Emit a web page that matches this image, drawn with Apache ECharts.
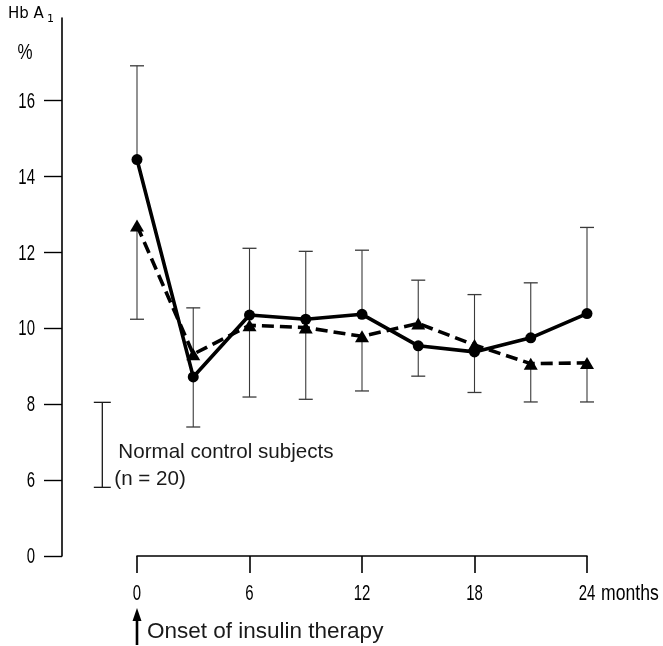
<!DOCTYPE html>
<html><head><meta charset="utf-8">
<script src="https://cdn.jsdelivr.net/npm/echarts@6/dist/echarts.min.js"></script>
<style>html,body{margin:0;padding:0;background:#fff}#c{width:663px;height:646px}</style>
</head><body><div id="c"></div>
<script>
// ---- data ----
const months = [0, 3, 6, 9, 12, 15, 18, 21, 24];
const circles = [14.45, 8.72, 10.35, 10.24, 10.37, 9.54, 9.38, 9.75, 10.39];
const triangles = [12.71, 9.32, 10.08, 10.02, 9.79, 10.13, 9.56, 9.07, 9.09];
const upperBars = [16.92, 10.54, 12.11, 12.03, 12.06, 11.27, 10.89, 11.20, 12.66];
const lowerBars = [10.24, 7.40, 8.19, 8.13, 8.35, 8.74, 8.31, 8.06, 8.06];
const controlMonth = -1.85;
const controlRange = [5.81, 8.05];
const controlLabels = ['Normal control subjects', '(n = 20)'];
// axis is broken: the lowest tick (placed at 4) is labelled 0
const yTicks = [4, 6, 8, 10, 12, 14, 16];
const yTickLabels = ['0', '6', '8', '10', '12', '14', '16'];
const xTicks = [0, 6, 12, 18, 24];
const xTickLabels = ['0', '6', '12', '18', '24'];
const xUnit = 'months';

const SANS = '"Liberation Sans", Arial, sans-serif';
const Y_OFFSET = 75;

const chart = echarts.init(document.getElementById('c'), null, {renderer: 'canvas'});

const barData = months.map((m, i) => [m,
  Math.max(circles[i], triangles[i]), Math.min(circles[i], triangles[i]),
  upperBars[i], lowerBars[i]]);

function capLine(x, y, hw, color, lw) {
  return {type: 'line', shape: {x1: x - hw, y1: y, x2: x + hw, y2: y},
    style: {stroke: color, lineWidth: lw}};
}
function narrowText(x, y, text, align, sx) {
  return {type: 'text', x: x, y: y, scaleX: sx,
    style: {x: 0, y: 0, text: text, fill: '#000', font: '22px ' + SANS, align: align, verticalAlign: 'middle'}};
}

const option = {
  animation: false,
  backgroundColor: '#fff',
  grid: {left: 137, right: 76, top: 18, bottom: 90, outerBoundsMode: 'none', containLabel: false},
  xAxis: {
    type: 'value', min: 0, max: 24, interval: 6,
    axisLine: {show: true, onZero: false, lineStyle: {color: '#000', width: 1.6}},
    axisTick: {show: true, length: 17, lineStyle: {color: '#000', width: 1.6}},
    axisLabel: {show: false},
    splitLine: {show: false}
  },
  yAxis: {
    type: 'value', min: 4, max: 18.18, offset: Y_OFFSET,
    axisLine: {show: true, onZero: false, lineStyle: {color: '#000', width: 1.6}},
    axisTick: {show: true, length: 18, customValues: yTicks, lineStyle: {color: '#000', width: 1.4}},
    axisLabel: {show: false},
    splitLine: {show: false}
  },
  series: [
    {
      type: 'custom', name: 'sd', z: 1, clip: false,
      data: barData,
      renderItem: (params, api) => {
        const m = api.value(0);
        const pHi = api.coord([m, api.value(1)]);
        const pLo = api.coord([m, api.value(2)]);
        const pTop = api.coord([m, api.value(3)]);
        const pBot = api.coord([m, api.value(4)]);
        const c = '#3a3a3a', lw = 1.1, hw = 7;
        return {type: 'group', children: [
          {type: 'line', shape: {x1: pTop[0], y1: pTop[1], x2: pHi[0], y2: pHi[1]}, style: {stroke: c, lineWidth: lw}},
          {type: 'line', shape: {x1: pLo[0], y1: pLo[1], x2: pBot[0], y2: pBot[1]}, style: {stroke: c, lineWidth: lw}},
          capLine(pTop[0], pTop[1], hw, c, 1.3),
          capLine(pBot[0], pBot[1], hw, c, 1.3)
        ]};
      }
    },
    {
      type: 'custom', name: 'control', z: 1, clip: false,
      data: [[controlMonth, controlRange[0], controlRange[1]]],
      renderItem: (params, api) => {
        const m = api.value(0);
        const pB = api.coord([m, api.value(1)]);
        const pT = api.coord([m, api.value(2)]);
        const c = '#1a1a1a';
        return {type: 'group', children: [
          {type: 'line', shape: {x1: pT[0], y1: pT[1], x2: pB[0], y2: pB[1]}, style: {stroke: c, lineWidth: 1.3}},
          capLine(pT[0], pT[1], 8.5, c, 1.3),
          capLine(pB[0], pB[1], 8.5, c, 1.3),
          {type: 'text', style: {x: pB[0] + 16, y: pB[1] - 35, text: controlLabels[0],
            fill: '#1a1a1a', font: '20.6px ' + SANS, verticalAlign: 'middle', align: 'left'}},
          {type: 'text', style: {x: pB[0] + 12, y: pB[1] - 8, text: controlLabels[1],
            fill: '#1a1a1a', font: '20.6px ' + SANS, verticalAlign: 'middle', align: 'left'}}
        ]};
      }
    },
    {
      // y tick labels, placed through the y scale
      type: 'custom', name: 'yLabels', z: 1, clip: false, silent: true,
      data: yTicks.map((v, i) => [0, v, i]),
      renderItem: (params, api) => {
        const p = api.coord([0, api.value(1)]);
        return narrowText(p[0] - Y_OFFSET - 27, p[1] + 1, yTickLabels[api.value(2)], 'right', 0.68);
      }
    },
    {
      // x tick labels, placed through the x scale
      type: 'custom', name: 'xLabels', z: 1, clip: false, silent: true,
      data: xTicks.map((v, i) => [v, 4, i]),
      renderItem: (params, api) => {
        const i = api.value(2);
        const p = api.coord([api.value(0), api.value(1)]);
        const kids = [narrowText(p[0], p[1] + 38, xTickLabels[i], 'center', 0.68)];
        if (i === xTicks.length - 1) kids.push(narrowText(p[0] + 14, p[1] + 38, xUnit, 'left', 0.8));
        return {type: 'group', children: kids};
      }
    },
    {
      type: 'line', name: 'circles', z: 3,
      data: months.map((m, i) => [m, circles[i]]),
      symbol: 'circle', symbolSize: 11,
      lineStyle: {color: '#000', width: 3.6},
      itemStyle: {color: '#000'}
    },
    {
      type: 'line', name: 'triangles', z: 2,
      data: months.map((m, i) => [m, triangles[i]]),
      symbol: 'triangle', symbolSize: [14, 12],
      lineStyle: {color: '#000', width: 3.6, type: [12, 6]},
      itemStyle: {color: '#000'}
    }
  ]
};
chart.setOption(option);

// annotations
const p0 = chart.convertToPixel({gridIndex: 0}, [0, 4]);
chart.setOption({
  graphic: [
    {type: 'text', left: 8, top: 7, style: {text: 'Hb A', fill: '#000', font: '15px "DejaVu Sans", sans-serif'}},
    {type: 'text', left: 47, top: 14, style: {text: '1', fill: '#000', font: '11px "DejaVu Sans", sans-serif'}},
    {type: 'text', x: 25, y: 53, scaleX: 0.77, style: {x: 0, y: 0, text: '%', fill: '#000', font: '22px ' + SANS, align: 'center', verticalAlign: 'middle'}},
    {type: 'polygon', shape: {points: [[p0[0], 608], [p0[0] - 4.5, 621], [p0[0] + 4.5, 621]]}, style: {fill: '#000'}},
    {type: 'line', shape: {x1: p0[0], y1: 618, x2: p0[0], y2: 645}, style: {stroke: '#000', lineWidth: 2.6}},
    {type: 'text', x: p0[0] + 10, y: 632, style: {text: 'Onset of insulin therapy', fill: '#1a1a1a',
      font: '22.5px ' + SANS, verticalAlign: 'middle', align: 'left'}}
  ]
});
</script></body></html>
